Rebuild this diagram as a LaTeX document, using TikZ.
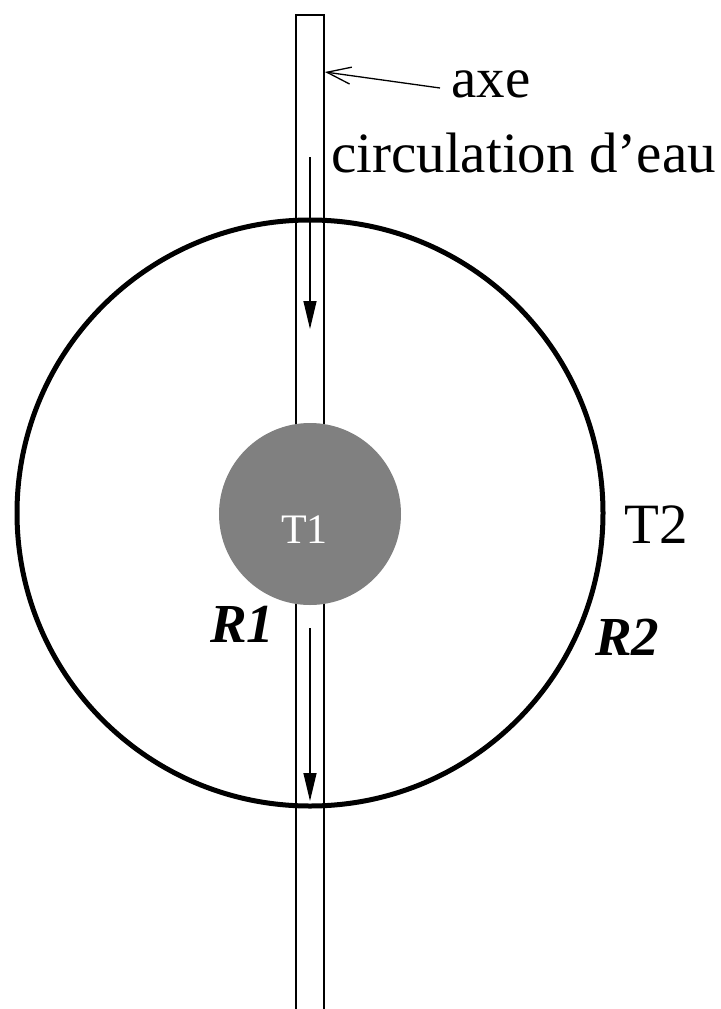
\documentclass[tikz,border=0pt]{standalone}
\usepackage{fontspec}
\setmainfont{Liberation Serif}
\usetikzlibrary{arrows.meta}
\begin{document}
\begin{tikzpicture}[x=1pt,y=-1pt,
  thin line/.style={line width=1.3pt,black},
  flowarrow/.style={line width=1.3pt,-{Triangle[length=28pt,width=13pt]}},
  pointer/.style={line width=1.3pt,-{Straight Barb[length=24pt,width=17pt]}},
  bigtext/.style={font=\fontsize{57}{62}\selectfont,inner sep=0pt,anchor=base west},
  boldtext/.style={font=\fontsize{55}{60}\selectfont\bfseries\itshape,inner sep=0pt,anchor=base west}]
\useasboundingbox (0,0) rectangle (720,1009);
% tube (axe)
\draw[thin line] (296,1012) -- (296,15) -- (324,15) -- (324,1012);
% outer circle T2
\node[circle,draw,line width=5pt,minimum size=586pt,inner sep=0pt] (outer) at (310,513) {};
% inner disc T1
\node[circle,fill={rgb,255:red,128;green,128;blue,128},minimum size=182pt,inner sep=0pt] (inner) at (310,514) {};
\node[font=\fontsize{42}{46}\selectfont,text=white,inner sep=0pt,anchor=base west] (t1) at (281,543) {T1};
% labels
\node[bigtext] (axe) at (451,97) {axe};
\node[bigtext] (circ) at (331,172) {circulation d’eau};
\node[bigtext] (t2) at (624,543) {T2};
\node[boldtext] (r1) at (210,642) {R1};
\node[boldtext] (r2) at (595,655) {R2};
% pointer from label to tube
\coordinate (tubepoint) at (325,72);
\coordinate (axestart) at (440,88);
\draw[pointer] (axestart) -- (tubepoint);
% flow arrows
\coordinate (f1s) at (310,157);
\coordinate (f1e) at (310,329);
\coordinate (f2s) at (310,628);
\coordinate (f2e) at (310,801);
\draw[flowarrow] (f1s) -- (f1e);
\draw[flowarrow] (f2s) -- (f2e);
\end{tikzpicture}
\end{document}
